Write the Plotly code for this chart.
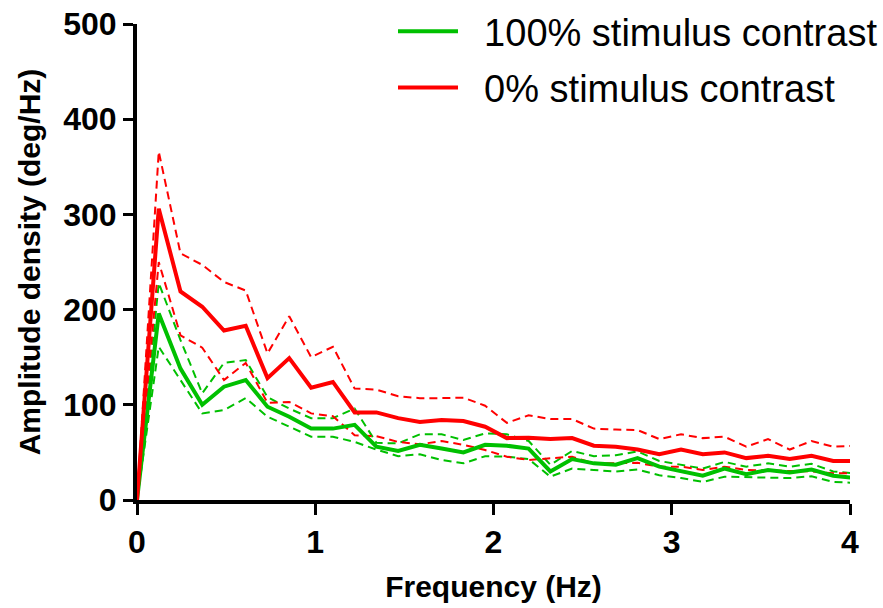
import plotly.graph_objects as go

freq = [0, 0.122, 0.244, 0.366, 0.488, 0.610, 0.732, 0.854, 0.977, 1.099,
        1.221, 1.343, 1.465, 1.587, 1.709, 1.831, 1.953, 2.075, 2.197, 2.319,
        2.441, 2.563, 2.686, 2.808, 2.930, 3.052, 3.174, 3.296, 3.418, 3.540,
        3.662, 3.784, 3.906, 4.028]

red_mean = [0, 306, 219, 203, 178, 183, 128, 149, 118, 124, 92, 92, 86, 82, 84, 83, 77, 65,
            65.5, 64, 65, 57, 56, 53, 48, 53, 48, 50, 44, 46.5, 43, 46.5, 41, 41]
red_upper = [0, 366, 259, 247, 229, 220, 154, 193, 150, 161, 117, 116, 109, 107, 107, 107.5, 99, 81,
             89, 85, 85, 75, 74, 73.5, 64, 69, 65, 66.5, 56, 64, 53, 62, 56, 57]
red_lower = [0, 250, 173, 160, 126, 144, 102, 103, 91, 88, 68, 67, 61, 58.5, 62, 58, 52.5, 45.5,
             42, 44, 45.5, 38.5, 39, 39, 35, 35, 31.5, 35, 31.5, 31, 31, 30, 28, 28]

green_mean = [0, 196, 138, 100, 119, 126, 98, 87.5, 75, 75, 79, 56, 51.5, 58, 54, 50, 58, 57,
              54, 30, 43, 38.5, 37, 44, 35, 30, 25.5, 33, 27, 31.5, 29, 32, 25.5, 23]
green_upper = [0, 228, 168, 112, 144, 147, 108, 96, 86, 86, 96, 60, 59.5, 69, 69, 63, 70, 69,
               62, 37, 51.5, 46, 47, 51, 41, 37, 33, 40, 35, 38.5, 35, 38, 30, 28]
green_lower = [0, 161, 126, 91, 94.5, 107, 87.5, 77, 66.5, 66.5, 61, 53, 46, 48, 42, 38.5, 46, 45.5,
               43, 24.5, 33, 31.5, 30, 32, 26, 23, 19, 24.5, 24, 24, 23, 25, 19, 18]

x_ticks = [0, 1, 2, 3, 4]
y_ticks = [0, 100, 200, 300, 400, 500]

GREEN = "#00C000"
RED = "#FF0000"
DASH = "8px,5px"
PAD = "\u00a0\u00a0"

fig = go.Figure()
for y, c in [(green_upper, GREEN), (green_lower, GREEN), (red_upper, RED), (red_lower, RED)]:
    fig.add_trace(go.Scatter(x=freq, y=y, mode="lines", showlegend=False, hoverinfo="skip",
                             line=dict(color=c, width=2, dash=DASH)))
fig.add_trace(go.Scatter(x=freq, y=green_mean, mode="lines", name=PAD + "100% stimulus contrast",
                         legendgroup="g", line=dict(color=GREEN, width=4)))
fig.add_trace(go.Scatter(x=freq, y=red_mean, mode="lines", name=PAD + "0% stimulus contrast",
                         legendgroup="r", line=dict(color=RED, width=4)))

axis_font = dict(family="Liberation Sans, Arial", size=32, color="black", weight="bold")
title_font = dict(family="Liberation Sans, Arial", size=30, color="black", weight="bold")

fig.update_layout(
    width=883, height=608,
    margin=dict(l=137, r=33, t=24, b=108, autoexpand=False),
    paper_bgcolor="white", plot_bgcolor="white",
    showlegend=True,
    legend=dict(xref="container", yref="container", x=1.0, xanchor="right", y=1.01, yanchor="top",
                font=dict(family="Liberation Sans, Arial", size=38, color="black"),
                bgcolor="rgba(0,0,0,0)", tracegroupgap=4, traceorder="grouped", itemwidth=60),
    xaxis=dict(range=[0, 4], tickvals=x_ticks, ticktext=[str(v) for v in x_ticks],
               showline=True, linecolor="black", linewidth=4, ticks="outside",
               ticklen=11, tickwidth=3, tickcolor="black", showgrid=False, zeroline=False,
               automargin=False,
               tickfont=axis_font, title=dict(text="Frequency (Hz)", font=title_font, standoff=18)),
    yaxis=dict(range=[0, 500], tickvals=y_ticks, ticktext=[str(v) for v in y_ticks],
               showline=True, linecolor="black", linewidth=4, ticks="outside",
               ticklen=10, tickwidth=3, tickcolor="black", showgrid=False, zeroline=False,
               automargin=False,
               tickfont=axis_font, title=dict(text="Amplitude density (deg/Hz)", font=title_font, standoff=15)),
)

fig.write_html("out.html")
